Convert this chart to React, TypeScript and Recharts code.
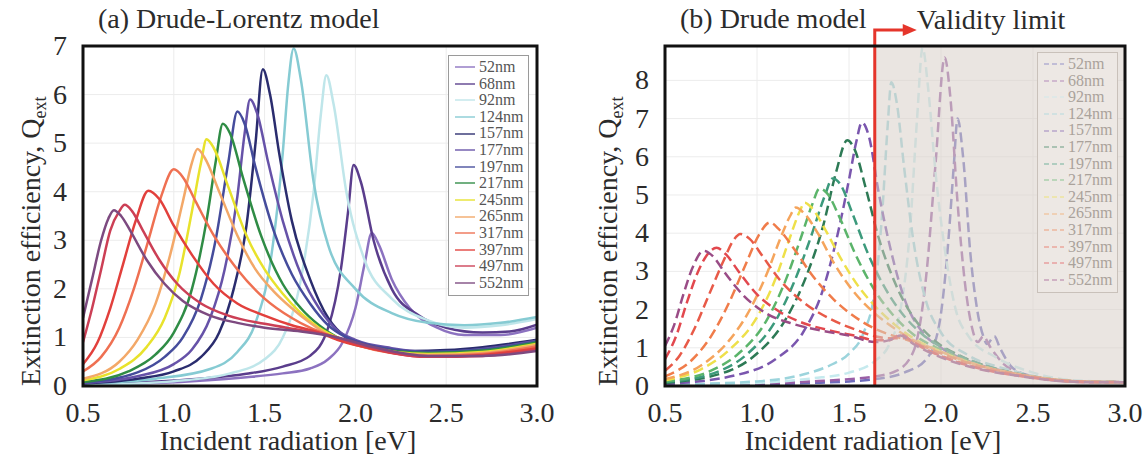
import React from "react";
import { CartesianGrid, Line, LineChart, ReferenceArea, ReferenceLine, XAxis, YAxis } from "recharts";

type Pt = [number, number]; // [energy eV, Q_ext]

const FONT = '"Liberation Serif", "Times New Roman", Times, serif';

const sizes = ["52nm", "68nm", "92nm", "124nm", "157nm", "177nm", "197nm", "217nm", "245nm", "265nm", "317nm", "397nm", "497nm", "552nm"];
const xTicks = [0.5, 1.0, 1.5, 2.0, 2.5, 3.0];
const yTicksA = [0, 1, 2, 3, 4, 5, 6, 7];
const yTicksB = [0, 1, 2, 3, 4, 5, 6, 7, 8];
const validityLimit = 1.64;

// (a) Drude-Lorentz, lignes pleines
const colorsA = ["#8c72c0", "#5a3d8c", "#bfe6ea", "#86cbd3", "#2a2c6e", "#6652a8", "#454c9c", "#2f8c45", "#e8e22c", "#f3a868", "#ef7052", "#e2403c", "#cc3f55", "#7d4a80"];

const a52: Pt[] = [[0.5, 0.02], [0.8, 0.05], [1.1, 0.1], [1.4, 0.18], [1.6, 0.26], [1.75, 0.36], [1.85, 0.55], [1.93, 0.9], [2.0, 1.6], [2.05, 2.5], [2.09, 3.15], [2.13, 2.9], [2.2, 2.2], [2.3, 1.6], [2.45, 1.2], [2.6, 1.05], [2.8, 1.05], [3.0, 1.2]];
const a68: Pt[] = [[0.5, 0.03], [0.8, 0.07], [1.1, 0.14], [1.4, 0.25], [1.6, 0.4], [1.75, 0.62], [1.85, 1.2], [1.92, 2.4], [1.96, 3.6], [1.99, 4.55], [2.03, 4.2], [2.1, 3.0], [2.2, 2.0], [2.35, 1.45], [2.5, 1.2], [2.7, 1.1], [2.85, 1.12], [3.0, 1.26]];
const a92: Pt[] = [[0.5, 0.02], [1.0, 0.1], [1.3, 0.25], [1.5, 0.55], [1.6, 1.0], [1.7, 2.2], [1.77, 4.0], [1.81, 5.6], [1.84, 6.4], [1.88, 5.8], [1.95, 4.0], [2.05, 2.6], [2.2, 1.8], [2.4, 1.35], [2.6, 1.2], [2.8, 1.25], [3.0, 1.38]];
const a124: Pt[] = [[0.5, 0.05], [0.9, 0.15], [1.2, 0.35], [1.35, 0.7], [1.45, 1.3], [1.53, 2.5], [1.6, 4.8], [1.63, 6.2], [1.66, 6.95], [1.7, 6.3], [1.77, 4.2], [1.85, 2.9], [2.0, 2.0], [2.2, 1.5], [2.4, 1.3], [2.6, 1.25], [2.8, 1.3], [3.0, 1.42]];
const a157: Pt[] = [[0.5, 0.05], [0.8, 0.15], [1.0, 0.3], [1.15, 0.6], [1.25, 1.1], [1.33, 2.0], [1.4, 3.3], [1.45, 5.0], [1.49, 6.52], [1.53, 6.0], [1.58, 4.8], [1.65, 3.4], [1.75, 2.2], [1.85, 1.4], [1.95, 1.0], [2.1, 0.8], [2.3, 0.72], [2.5, 0.74], [2.7, 0.8], [3.0, 0.95]];
const a177: Pt[] = [[0.5, 0.06], [0.8, 0.2], [1.0, 0.45], [1.1, 0.75], [1.2, 1.4], [1.28, 2.4], [1.35, 3.9], [1.39, 5.2], [1.42, 5.9], [1.46, 5.6], [1.52, 4.6], [1.6, 3.4], [1.7, 2.3], [1.8, 1.6], [1.9, 1.15], [2.0, 0.95], [2.2, 0.78], [2.45, 0.7], [2.7, 0.76], [3.0, 0.93]];
const a197: Pt[] = [[0.5, 0.07], [0.8, 0.28], [0.95, 0.6], [1.05, 1.0], [1.15, 1.8], [1.23, 3.0], [1.3, 4.6], [1.35, 5.65], [1.39, 5.4], [1.45, 4.5], [1.55, 3.2], [1.65, 2.3], [1.75, 1.7], [1.85, 1.25], [1.95, 1.0], [2.1, 0.82], [2.4, 0.7], [2.7, 0.75], [3.0, 0.92]];
const a217: Pt[] = [[0.5, 0.08], [0.75, 0.3], [0.9, 0.65], [1.0, 1.1], [1.1, 2.0], [1.18, 3.4], [1.23, 4.6], [1.27, 5.4], [1.31, 5.2], [1.38, 4.3], [1.48, 3.1], [1.6, 2.1], [1.7, 1.6], [1.8, 1.25], [1.9, 1.0], [2.05, 0.82], [2.4, 0.68], [2.7, 0.73], [3.0, 0.9]];
const a245: Pt[] = [[0.5, 0.12], [0.7, 0.35], [0.85, 0.8], [0.95, 1.4], [1.03, 2.3], [1.1, 3.6], [1.15, 4.6], [1.18, 5.08], [1.22, 4.9], [1.3, 4.1], [1.4, 3.1], [1.5, 2.4], [1.6, 1.9], [1.7, 1.5], [1.8, 1.2], [1.9, 1.0], [2.05, 0.82], [2.4, 0.66], [2.7, 0.7], [3.0, 0.87]];
const a265: Pt[] = [[0.5, 0.15], [0.7, 0.5], [0.8, 0.95], [0.9, 1.7], [0.98, 2.7], [1.05, 3.8], [1.1, 4.6], [1.13, 4.88], [1.17, 4.7], [1.25, 4.0], [1.35, 3.1], [1.45, 2.4], [1.55, 1.95], [1.65, 1.6], [1.75, 1.3], [1.85, 1.05], [2.0, 0.85], [2.4, 0.64], [2.7, 0.68], [3.0, 0.85]];
const a317: Pt[] = [[0.5, 0.3], [0.6, 0.6], [0.7, 1.2], [0.78, 2.0], [0.86, 3.0], [0.93, 3.9], [1.0, 4.46], [1.05, 4.3], [1.12, 3.8], [1.22, 3.1], [1.35, 2.4], [1.5, 1.8], [1.65, 1.4], [1.75, 1.2], [1.85, 1.05], [2.0, 0.85], [2.4, 0.62], [2.7, 0.66], [3.0, 0.82]];
const a397: Pt[] = [[0.5, 0.45], [0.58, 0.9], [0.65, 1.6], [0.72, 2.5], [0.79, 3.4], [0.86, 4.02], [0.92, 3.85], [1.0, 3.3], [1.1, 2.7], [1.22, 2.1], [1.35, 1.7], [1.5, 1.45], [1.65, 1.25], [1.8, 1.1], [1.9, 0.95], [2.05, 0.8], [2.4, 0.6], [2.7, 0.64], [3.0, 0.78]];
const a497: Pt[] = [[0.5, 0.9], [0.55, 1.6], [0.6, 2.4], [0.65, 3.2], [0.7, 3.6], [0.73, 3.73], [0.77, 3.6], [0.83, 3.2], [0.92, 2.6], [1.02, 2.1], [1.15, 1.7], [1.3, 1.45], [1.5, 1.28], [1.7, 1.15], [1.85, 1.05], [2.0, 0.88], [2.4, 0.6], [2.7, 0.62], [3.0, 0.74]];
const a552: Pt[] = [[0.5, 1.4], [0.55, 2.2], [0.6, 3.0], [0.64, 3.45], [0.67, 3.62], [0.71, 3.5], [0.76, 3.2], [0.85, 2.6], [0.95, 2.1], [1.05, 1.75], [1.2, 1.45], [1.35, 1.3], [1.5, 1.2], [1.7, 1.12], [1.9, 1.0], [2.1, 0.8], [2.4, 0.62], [2.7, 0.62], [3.0, 0.72]];
const seriesA = [a52, a68, a92, a124, a157, a177, a197, a217, a245, a265, a317, a397, a497, a552];

// (b) Drude, tirets
const colorsB = ["#6e6cbc", "#9a5fa6", "#c6eaee", "#9cd4dc", "#7a56ae", "#2d7a55", "#3c9a7c", "#5bb46a", "#eee04a", "#f5a45c", "#f07c4a", "#e85a48", "#e2484e", "#9a4c86"];

const b52: Pt[] = [[0.5, 0.03], [1.0, 0.05], [1.3, 0.08], [1.5, 0.12], [1.64, 0.18], [1.8, 0.35], [1.92, 0.7], [1.99, 1.6], [2.04, 3.8], [2.07, 5.8], [2.09, 7.0], [2.12, 6.0], [2.16, 3.45], [2.2, 1.9], [2.23, 1.3], [2.25, 1.1], [2.29, 1.3], [2.32, 1.0], [2.39, 0.47], [2.5, 0.25], [2.7, 0.12], [3.0, 0.1]];
const b68: Pt[] = [[0.5, 0.03], [1.0, 0.06], [1.3, 0.12], [1.5, 0.18], [1.64, 0.25], [1.76, 0.4], [1.85, 0.9], [1.92, 2.9], [1.97, 5.8], [2.02, 8.6], [2.05, 7.6], [2.09, 4.8], [2.13, 2.7], [2.17, 1.5], [2.2, 1.15], [2.23, 1.3], [2.27, 1.0], [2.34, 0.58], [2.45, 0.3], [2.6, 0.16], [2.8, 0.1], [3.0, 0.1]];
const b92: Pt[] = [[0.5, 0.03], [1.0, 0.08], [1.3, 0.2], [1.5, 0.35], [1.64, 0.65], [1.72, 1.1], [1.78, 2.0], [1.83, 4.0], [1.87, 7.0], [1.9, 8.85], [1.93, 7.8], [1.97, 5.6], [2.02, 3.6], [2.08, 2.0], [2.15, 1.3], [2.3, 0.75], [2.5, 0.35], [2.7, 0.16], [3.0, 0.1]];
const b124: Pt[] = [[0.5, 0.04], [1.0, 0.12], [1.25, 0.3], [1.4, 0.55], [1.5, 0.85], [1.58, 1.4], [1.64, 2.5], [1.68, 4.5], [1.71, 6.8], [1.73, 7.95], [1.76, 7.4], [1.8, 5.7], [1.85, 3.8], [1.92, 2.2], [2.0, 1.4], [2.15, 0.8], [2.35, 0.45], [2.55, 0.22], [2.75, 0.12], [3.0, 0.1]];
const b157: Pt[] = [[0.5, 0.05], [0.9, 0.3], [1.1, 0.7], [1.25, 1.4], [1.35, 2.4], [1.43, 3.8], [1.5, 5.4], [1.54, 6.4], [1.57, 6.9], [1.61, 6.5], [1.66, 5.1], [1.73, 3.5], [1.8, 2.3], [1.9, 1.4], [2.0, 1.0], [2.15, 0.65], [2.35, 0.38], [2.55, 0.2], [2.75, 0.12], [3.0, 0.1]];
const b177: Pt[] = [[0.5, 0.08], [0.85, 0.4], [1.0, 0.85], [1.15, 1.7], [1.27, 2.9], [1.36, 4.2], [1.43, 5.6], [1.49, 6.43], [1.53, 6.2], [1.59, 5.2], [1.66, 3.9], [1.75, 2.7], [1.85, 1.8], [1.95, 1.25], [2.1, 0.8], [2.3, 0.45], [2.5, 0.25], [2.7, 0.13], [3.0, 0.1]];
const b197: Pt[] = [[0.5, 0.1], [0.8, 0.4], [0.95, 0.85], [1.1, 1.7], [1.2, 2.7], [1.3, 4.0], [1.37, 5.0], [1.41, 5.43], [1.45, 5.3], [1.52, 4.5], [1.6, 3.5], [1.68, 2.7], [1.78, 1.95], [1.9, 1.35], [2.05, 0.9], [2.2, 0.6], [2.4, 0.33], [2.6, 0.18], [2.8, 0.11], [3.0, 0.1]];
const b217: Pt[] = [[0.5, 0.12], [0.75, 0.4], [0.9, 0.85], [1.05, 1.7], [1.15, 2.7], [1.24, 3.9], [1.3, 4.75], [1.34, 5.17], [1.38, 5.05], [1.45, 4.4], [1.53, 3.5], [1.64, 2.5], [1.75, 1.8], [1.85, 1.35], [2.0, 0.95], [2.2, 0.56], [2.4, 0.32], [2.6, 0.17], [2.8, 0.11], [3.0, 0.1]];
const b245: Pt[] = [[0.5, 0.15], [0.7, 0.45], [0.85, 0.95], [1.0, 1.8], [1.1, 2.8], [1.18, 3.9], [1.23, 4.55], [1.26, 4.8], [1.3, 4.65], [1.37, 4.1], [1.46, 3.3], [1.56, 2.55], [1.64, 2.1], [1.75, 1.6], [1.85, 1.25], [2.0, 0.9], [2.2, 0.55], [2.4, 0.32], [2.6, 0.18], [2.8, 0.11], [3.0, 0.1]];
const b265: Pt[] = [[0.5, 0.18], [0.7, 0.55], [0.85, 1.2], [0.95, 1.9], [1.05, 2.9], [1.13, 3.9], [1.18, 4.45], [1.21, 4.67], [1.26, 4.5], [1.33, 4.0], [1.42, 3.2], [1.52, 2.5], [1.64, 1.9], [1.75, 1.5], [1.85, 1.2], [2.0, 0.9], [2.2, 0.55], [2.4, 0.33], [2.6, 0.18], [2.8, 0.11], [3.0, 0.1]];
const b317: Pt[] = [[0.5, 0.25], [0.65, 0.7], [0.75, 1.3], [0.85, 2.2], [0.94, 3.2], [1.01, 3.95], [1.07, 4.28], [1.12, 4.1], [1.2, 3.6], [1.3, 2.9], [1.42, 2.25], [1.55, 1.75], [1.64, 1.5], [1.75, 1.3], [1.85, 1.15], [1.95, 0.95], [2.1, 0.68], [2.3, 0.42], [2.5, 0.24], [2.7, 0.13], [3.0, 0.1]];
const b397: Pt[] = [[0.5, 0.4], [0.58, 0.8], [0.66, 1.5], [0.74, 2.4], [0.82, 3.3], [0.87, 3.8], [0.91, 3.98], [0.96, 3.85], [1.03, 3.4], [1.12, 2.8], [1.25, 2.2], [1.4, 1.75], [1.55, 1.45], [1.64, 1.3], [1.72, 1.25], [1.8, 1.25], [1.9, 1.0], [2.05, 0.7], [2.2, 0.48], [2.4, 0.3], [2.6, 0.17], [2.8, 0.11], [3.0, 0.1]];
const b497: Pt[] = [[0.5, 0.7], [0.56, 1.3], [0.62, 2.2], [0.68, 3.0], [0.74, 3.5], [0.78, 3.62], [0.83, 3.45], [0.9, 3.0], [1.0, 2.4], [1.12, 1.95], [1.25, 1.65], [1.4, 1.45], [1.55, 1.3], [1.64, 1.2], [1.72, 1.2], [1.78, 1.35], [1.85, 1.15], [2.0, 0.78], [2.2, 0.47], [2.4, 0.28], [2.6, 0.16], [2.8, 0.1], [3.0, 0.1]];
const b552: Pt[] = [[0.5, 1.05], [0.55, 1.6], [0.6, 2.4], [0.65, 3.1], [0.71, 3.54], [0.76, 3.4], [0.82, 3.0], [0.92, 2.4], [1.05, 1.9], [1.2, 1.62], [1.35, 1.45], [1.5, 1.32], [1.64, 1.15], [1.72, 1.2], [1.78, 1.32], [1.85, 1.1], [2.0, 0.75], [2.2, 0.45], [2.4, 0.28], [2.6, 0.15], [2.8, 0.1], [3.0, 0.1]];
const seriesB = [b52, b68, b92, b124, b157, b177, b197, b217, b245, b265, b317, b397, b497, b552];

const toPts = (arr: Pt[]) => arr.map(([x, y]) => ({ x, y }));

function XTick({ x, y, payload }: any) {
  return (
    <text x={x} y={y} dy={20} textAnchor="middle" style={{ fontFamily: FONT }} fontSize={28} fill="#2b2b2b">
      {Number(payload.value).toFixed(1)}
    </text>
  );
}

function YTick({ x, y, payload }: any) {
  return (
    <text x={x} y={y} dy={9} textAnchor="end" style={{ fontFamily: FONT }} fontSize={28} fill="#2b2b2b">
      {payload.value}
    </text>
  );
}

function YLabel({ viewBox, dx }: any) {
  const x = viewBox.x + dx;
  const y = viewBox.y + viewBox.height;
  return (
    <text x={x} y={y} transform={`rotate(-90 ${x} ${y})`} style={{ fontFamily: FONT }} fontSize={28} fill="#2b2b2b">
      Extinction efficiency, Q
      <tspan fontSize={18} dy={6}>ext</tspan>
    </text>
  );
}

function XLabel({ viewBox }: any) {
  return (
    <text x={viewBox.x + viewBox.width / 2 - 22} y={viewBox.y + 64} textAnchor="middle" style={{ fontFamily: FONT }} fontSize={28} fill="#2b2b2b">
      Incident radiation [eV]
    </text>
  );
}

function ValidityMark({ viewBox }: any) {
  const x = viewBox.x;
  const y = viewBox.y;
  const yh = y - 16;
  return (
    <g>
      <path d={`M${x},${y} V${yh} H${x + 30}`} fill="none" stroke="#e5352b" strokeWidth={3} />
      <polygon points={`${x + 28},${yh - 6} ${x + 42},${yh} ${x + 28},${yh + 6}`} fill="#e5352b" />
      <text x={x + 42} y={y - 17} style={{ fontFamily: FONT }} fontSize={28} fill="#2b2b2b">Validity limit</text>
    </g>
  );
}

function Legend({ left, top, colors, dashed, faded }: { left: number; top: number; colors: string[]; dashed: boolean; faded: boolean }) {
  return (
    <div
      style={{
        position: "absolute",
        left,
        top,
        width: 81,
        padding: "3px 0 4px 6px",
        boxSizing: "border-box",
        border: `1px solid ${faded ? "#c9c1ba" : "#9a9a9a"}`,
        background: faded ? "#ede8e4" : "#ffffff",
        fontFamily: FONT,
        fontSize: 16,
        lineHeight: "16.6px",
        color: faded ? "#aaa29b" : "#555",
      }}
    >
      {sizes.map((s, i) => (
        <div key={s} style={{ display: "flex", alignItems: "center", height: 16.6 }}>
          <svg width={20} height={4} style={{ marginRight: 4, opacity: faded ? 0.45 : 0.85 }}>
            <line x1={0} y1={2} x2={20} y2={2} stroke={colors[i]} strokeWidth={1.6} strokeDasharray={dashed ? "5 3" : undefined} />
          </svg>
          <span>{s}</span>
        </div>
      ))}
    </div>
  );
}

interface PanelProps {
  left: number;
  width: number;
  axisWidth: number;
  plotRight: number;
  title: string;
  series: Pt[][];
  colors: string[];
  dashed: boolean;
  yMax: number;
  yTicks: number[];
  yLabelDx: number;
  shadeFrom?: number;
  legendLeft: number;
  legendTop: number;
}

function Panel(p: PanelProps) {
  return (
    <div style={{ position: "absolute", left: p.left, top: 0, width: p.width, height: 457, fontFamily: FONT }}>
      <LineChart width={p.width} height={457} margin={{ top: 46, right: p.width - p.plotRight, bottom: 0, left: 0 }}>
        <CartesianGrid stroke="#ececec" strokeWidth={1} />
        <XAxis
          type="number"
          dataKey="x"
          domain={[0.5, 3]}
          ticks={xTicks}
          allowDataOverflow
          height={71}
          axisLine={false}
          tickLine={false}
          tickMargin={10}
          tick={<XTick />}
          label={{ content: (props: any) => <XLabel {...props} /> }}
        />
        <YAxis
          type="number"
          domain={[0, p.yMax]}
          ticks={p.yTicks}
          allowDataOverflow
          width={p.axisWidth}
          axisLine={false}
          tickLine={false}
          tickMargin={10}
          tick={<YTick />}
          label={{ content: (props: any) => <YLabel {...props} dx={p.yLabelDx} /> }}
        />
        {p.series.map((s, i) => (
          <Line
            key={sizes[i]}
            name={sizes[i]}
            data={toPts(s)}
            dataKey="y"
            type="monotone"
            stroke={p.colors[i]}
            strokeWidth={2.5}
            strokeDasharray={p.dashed ? "10 5" : undefined}
            dot={false}
            activeDot={false}
            isAnimationActive={false}
          />
        ))}
        {p.shadeFrom !== undefined && (
          <ReferenceArea x1={p.shadeFrom} x2={3} y1={0} y2={p.yMax} fill="#d9d0c9" fillOpacity={0.55} stroke="none" zIndex={900} />
        )}
        {p.shadeFrom !== undefined && (
          <ReferenceLine x={p.shadeFrom} stroke="#e5352b" strokeWidth={3} zIndex={950} label={{ content: (props: any) => <ValidityMark {...props} /> }} />
        )}
        <ReferenceArea x1={0.5} x2={3} y1={0} y2={p.yMax} fill="none" fillOpacity={0} stroke="#111" strokeWidth={3} zIndex={1000} />
      </LineChart>
      <div style={{ position: "absolute", left: p.axisWidth + 15, top: 5, fontFamily: FONT, fontSize: 28, lineHeight: "28px", color: "#2b2b2b", whiteSpace: "nowrap" }}>
        {p.title}
      </div>
      <Legend left={p.legendLeft} top={p.legendTop} colors={p.colors} dashed={p.dashed} faded={p.shadeFrom !== undefined} />
    </div>
  );
}

export default function App() {
  return (
    <div style={{ position: "absolute", left: 0, top: 0, width: 1147, height: 457, background: "#fff", overflow: "hidden", fontFamily: FONT }}>
      <Panel
        left={0}
        width={575}
        axisWidth={83}
        plotRight={537}
        title="(a) Drude-Lorentz model"
        series={seriesA}
        colors={colorsA}
        dashed={false}
        yMax={7}
        yTicks={yTicksA}
        yLabelDx={40}
        legendLeft={448}
        legendTop={55}
      />
      <Panel
        left={575}
        width={572}
        axisWidth={90}
        plotRight={550}
        title="(b) Drude model"
        series={seriesB}
        colors={colorsB}
        dashed={true}
        yMax={8.9}
        yTicks={yTicksB}
        yLabelDx={42}
        shadeFrom={validityLimit}
        legendLeft={462}
        legendTop={52}
      />
    </div>
  );
}
